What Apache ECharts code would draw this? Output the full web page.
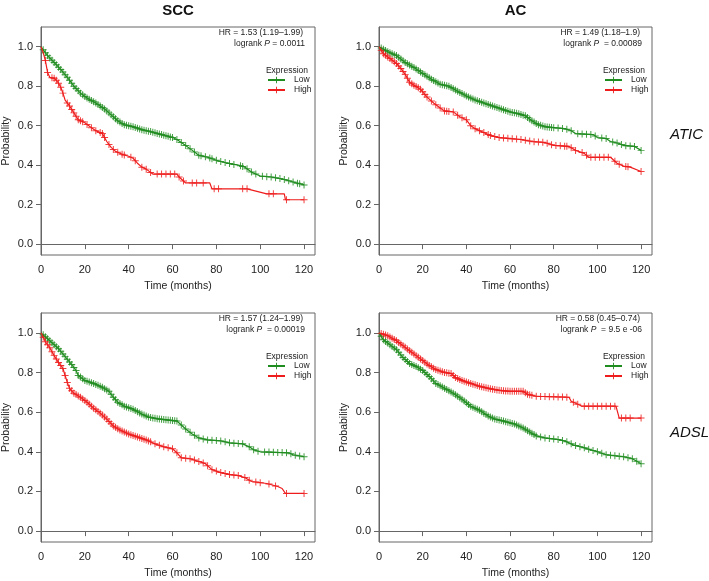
<!DOCTYPE html>
<html>
<head>
<meta charset="utf-8">
<script src="https://cdn.jsdelivr.net/npm/echarts@6/dist/echarts.min.js"></script>
<style>html,body{margin:0;padding:0;background:#fff;}#c{width:709px;height:581px;}</style>
</head>
<body>
<div id="c"></div>
<script>
// ---------- DATA ----------
const colTitles = ['SCC', 'AC'];
const rowTitles = ['ATIC', 'ADSL'];
const xTicks = [0, 20, 40, 60, 80, 100, 120];
const yTicks = [0, 0.2, 0.4, 0.6, 0.8, 1.0];
const groupNames = ['Low', 'High'];
const hrTexts = ['HR = 1.53 (1.19\u20131.99)', 'HR = 1.49 (1.18\u20131.9)', 'HR = 1.57 (1.24\u20131.99)', 'HR = 0.58 (0.45\u20130.74)'];
const pTexts = ['= 0.0011', ' = 0.00089', ' = 0.00019', ' = 9.5 e -06'];

// SCC / ATIC
const sccAticLowT = [0,3,6,9,12,15,18,21,25,29,32,35,38,42,46,50,55,60,62,66,69,72,76,80,85,90,93,96,100,105,110,115,120];
const sccAticLowS = [1,0.955,0.92,0.885,0.845,0.80,0.765,0.74,0.715,0.685,0.655,0.625,0.605,0.595,0.58,0.57,0.555,0.54,0.53,0.50,0.475,0.45,0.44,0.425,0.41,0.40,0.39,0.365,0.345,0.34,0.33,0.315,0.30];
const sccAticLowC = [1,2,3,4,5,6,7,8,9,10,11,12,13,14,15,16,17,18,19,20,21,22,23,24,25,26,27,28,29,30,31,32,33,34,35,36,37,38,39,40,41,42,43,44,45,46,47,48,49,50,51,52,53,54,55,56,57,58,59,60,62,64,66,68,70,72,73,75,77,78,80,82,84,86,88,91,92,94,96,98,101,103,105,107,109,111,113,115,117,118,120];
const sccAticHighT = [0,1,2,3,4,6,7,8,9,10,11,13,15,17,20,23,25,28,30,32,34,37,40,42,44,46,48,51,62,63,65,66,77,78,94,103,111,111.5,120];
const sccAticHighS = [1,0.97,0.93,0.87,0.845,0.84,0.83,0.815,0.795,0.765,0.73,0.70,0.665,0.63,0.615,0.59,0.575,0.56,0.52,0.49,0.47,0.455,0.445,0.435,0.41,0.39,0.38,0.355,0.355,0.34,0.32,0.31,0.31,0.28,0.28,0.255,0.255,0.225,0.225];
const sccAticHighC = [2,3,5,6,7,8,9,10,12,13,14,15,16,17,18,19,21,23,25,27,28,29,31,33,35,37,38,41,43,46,48,50,53,55,57,59,61,63,65,69,71,74,79,81,92,94,104,106,112,120];

// AC / ATIC
const acAticLowT = [0,4,8,12,16,20,24,28,32,36,40,44,48,52,56,60,64,67,70,73,76,80,85,88,90,98,100,104,106,110,112,117,120];
const acAticLowS = [1,0.975,0.955,0.92,0.895,0.865,0.835,0.81,0.80,0.775,0.75,0.73,0.715,0.70,0.685,0.67,0.66,0.65,0.625,0.605,0.595,0.59,0.585,0.575,0.56,0.555,0.54,0.535,0.52,0.51,0.50,0.495,0.475];
const acAticLowC = [1,2,3,4,5,6,7,8,9,10,11,12,13,14,15,16,17,18,19,20,21,22,23,24,25,26,27,28,29,30,31,32,33,34,35,36,37,38,39,40,41,42,43,44,45,46,47,48,49,50,51,52,53,54,55,56,57,58,59,60,61,62,63,64,65,66,67,68,69,70,71,72,73,74,75,76,77,78,79,80,82,84,86,88,91,93,95,97,99,102,104,107,109,111,113,115,117,120];
const acAticHighT = [0,2,5,8,10,12,14,16,19,22,25,28,30,34,37,40,42,44,47,51,55,60,65,70,76,80,87,90,94,96,106,109,112,115,120];
const acAticHighS = [1,0.965,0.94,0.915,0.89,0.86,0.82,0.805,0.785,0.745,0.715,0.69,0.675,0.67,0.645,0.63,0.60,0.585,0.57,0.55,0.54,0.535,0.53,0.52,0.515,0.50,0.495,0.475,0.46,0.44,0.44,0.41,0.395,0.39,0.368];
const acAticHighC = [1,2,3,4,5,6,7,8,9,10,11,12,13,14,15,16,17,18,19,20,21,22,24,26,28,30,31,32,34,36,38,40,42,44,46,48,50,51,53,55,57,59,61,63,65,67,69,71,73,75,77,79,81,83,85,86,88,90,93,95,97,99,101,103,105,108,110,113,114,120];

// SCC / ADSL
const sccAdslLowT = [0,4,8,11,14,16,17,20,24,28,31,33,35,38,42,46,49,54,58,62,64,66,69,72,76,82,86,92,95,97,100,113,115,120];
const sccAdslLowS = [1,0.96,0.92,0.88,0.84,0.81,0.785,0.76,0.745,0.725,0.705,0.675,0.65,0.63,0.615,0.59,0.575,0.565,0.56,0.555,0.535,0.515,0.49,0.47,0.46,0.455,0.445,0.44,0.425,0.41,0.40,0.395,0.385,0.375];
const sccAdslLowC = [1,2,3,4,5,6,7,8,9,10,11,12,13,14,15,16,17,18,19,20,21,22,23,24,25,26,27,28,29,30,31,32,33,34,35,36,37,38,39,40,41,42,43,44,45,46,47,48,49,50,51,52,53,54,55,56,57,58,59,60,61,62,64,66,68,70,72,74,76,78,80,82,84,86,88,90,92,95,97,99,102,104,106,108,110,112,114,116,118,120];
const sccAdslHighT = [0,2,4,6,8,10,11,12,13,15,18,21,24,27,30,33,36,40,44,48,52,56,60,62,64,68,71,75,78,82,86,90,93,96,103,108,110,111.5,120];
const sccAdslHighS = [1,0.955,0.925,0.885,0.85,0.82,0.785,0.75,0.72,0.695,0.675,0.65,0.62,0.595,0.565,0.53,0.51,0.49,0.475,0.46,0.44,0.425,0.415,0.395,0.37,0.365,0.355,0.34,0.31,0.295,0.285,0.28,0.27,0.25,0.24,0.225,0.215,0.19,0.19];
const sccAdslHighC = [1,2,3,4,5,6,7,8,9,10,11,12,13,14,15,16,17,18,19,20,21,22,23,24,25,26,27,28,29,30,31,32,33,34,35,36,37,38,39,40,41,42,43,44,45,46,47,48,49,50,52,54,56,58,60,62,64,66,68,70,72,74,76,78,80,82,84,86,88,90,93,95,98,100,104,107,112,120];

// AC / ADSL
const acAdslLowT = [0,2,5,8,11,14,17,20,23,26,30,34,38,42,46,50,53,57,62,66,69,72,76,83,86,89,94,100,104,108,112,116,120];
const acAdslLowS = [1,0.965,0.94,0.915,0.875,0.845,0.83,0.81,0.78,0.745,0.72,0.695,0.665,0.63,0.61,0.58,0.565,0.555,0.54,0.52,0.50,0.48,0.47,0.46,0.45,0.435,0.42,0.40,0.385,0.38,0.375,0.365,0.34];
const acAdslLowC = [1,2,3,4,5,6,7,8,9,10,11,12,13,14,15,16,17,18,19,20,21,22,23,24,25,26,27,28,29,30,31,32,33,34,35,36,37,38,39,40,41,42,43,44,45,46,47,48,49,50,51,52,53,54,55,56,57,58,59,60,61,62,63,64,65,66,67,68,69,70,71,72,74,76,78,80,82,84,86,88,90,92,94,96,98,100,102,104,106,108,110,112,114,116,118,120];
const acAdslHighT = [0,4,8,11,14,17,20,23,26,30,33,35,38,42,46,50,55,60,66,68,72,87,88,90,93,108.5,110,120];
const acAdslHighS = [1,0.985,0.96,0.935,0.91,0.885,0.86,0.835,0.815,0.80,0.795,0.775,0.76,0.745,0.73,0.72,0.71,0.705,0.705,0.69,0.68,0.675,0.655,0.645,0.63,0.63,0.57,0.57];
const acAdslHighC = [1,2,3,4,5,6,7,8,9,10,11,12,13,14,15,16,17,18,19,20,21,22,23,24,25,26,27,28,29,30,31,32,33,34,35,36,37,38,39,40,41,42,43,44,45,46,47,48,49,50,51,52,53,54,55,56,57,58,59,60,61,62,63,64,65,66,67,68,69,70,72,74,76,78,80,82,84,86,89,91,94,96,98,100,102,104,106,108,111,113,115,120];

const panels = [
  {low:[sccAticLowT, sccAticLowS, sccAticLowC], high:[sccAticHighT, sccAticHighS, sccAticHighC]},
  {low:[acAticLowT, acAticLowS, acAticLowC], high:[acAticHighT, acAticHighS, acAticHighC]},
  {low:[sccAdslLowT, sccAdslLowS, sccAdslLowC], high:[sccAdslHighT, sccAdslHighS, sccAdslHighC]},
  {low:[acAdslLowT, acAdslLowS, acAdslLowC], high:[acAdslHighT, acAdslHighS, acAdslHighC]}
];

// ---------- LAYOUT / STYLE ----------
const GREEN = '#1f8c1f';
const RED = '#ee1c1c';
const FONT = 'Liberation Sans, Arial, Helvetica, sans-serif';
const grids = [
  {left: 41, top: 27, width: 274, height: 228},
  {left: 379, top: 27, width: 273, height: 228},
  {left: 41, top: 313, width: 274, height: 229},
  {left: 379, top: 313, width: 273, height: 229}
];
const PLUS = 'path://M4.3,0h1.4v10h-1.4zM0,4.3h10v1.4h-10z';

// y of the drawn curve at time t (censor marks sit on the curve)
function curveValue(T, S, t) {
  for (let i = 0; i < T.length - 1; i++) {
    if (t >= T[i] && t <= T[i + 1] && T[i + 1] > T[i]) {
      const f = (t - T[i]) / (T[i + 1] - T[i]);
      return S[i] + f * (S[i + 1] - S[i]);
    }
  }
  return S[S.length - 1];
}

const xAxes = [], yAxes = [], series = [], legends = [], graphics = [];
grids.forEach((g, i) => {
  xAxes.push({
    gridIndex: i, type: 'value', min: 0, max: 125,
    name: 'Time (months)', nameLocation: 'middle', nameGap: 26,
    nameTextStyle: {fontFamily: FONT, fontSize: 10.5, color: '#222'},
    axisLine: {show: true, lineStyle: {color: '#666', width: 1}},
    axisTick: {show: true, length: 5, lineStyle: {color: '#666'}, customValues: xTicks},
    axisLabel: {fontFamily: FONT, fontSize: 11, color: '#222', margin: 9, customValues: xTicks},
    splitLine: {show: false}
  });
  yAxes.push({
    gridIndex: i, type: 'value', min: -0.055, max: 1.1,
    name: 'Probability', nameLocation: 'middle', nameGap: 29,
    nameTextStyle: {fontFamily: FONT, fontSize: 10.5, color: '#222'},
    axisLine: {show: true, lineStyle: {color: '#666', width: 1}},
    axisTick: {show: true, length: 5, lineStyle: {color: '#666'}, customValues: yTicks},
    axisLabel: {fontFamily: FONT, fontSize: 11, color: '#222', margin: 8, customValues: yTicks,
      formatter: v => v.toFixed(1)},
    splitLine: {show: false}
  });
  const p = panels[i];
  [['Low', p.low, GREEN], ['High', p.high, RED]].forEach(([name, d, col]) => {
    const [T, S, C] = d;
    series.push({
      name: name, type: 'line', xAxisIndex: i, yAxisIndex: i,
      data: T.map((t, k) => [t, S[k]]),
      symbol: PLUS, showSymbol: false, symbolSize: 6,
      lineStyle: {color: col, width: 1.2}, itemStyle: {color: col},
      animation: false, silent: true
    });
    series.push({
      name: name, type: 'scatter', xAxisIndex: i, yAxisIndex: i,
      data: C.map(t => [t, curveValue(T, S, t)]),
      symbol: PLUS, symbolSize: 7, itemStyle: {color: col, opacity: 0.85},
      animation: false, silent: true
    });
  });
  const right = g.left + g.width;
  const hrRight = i % 2 === 0 ? right - 12 : right - 12;
  graphics.push({type: 'text', x: hrRight, y: g.top + 6,
    style: {text: hrTexts[i], fontFamily: FONT, fontSize: 8.5, fill: '#222', align: 'right', verticalAlign: 'middle'}});
  graphics.push({type: 'text', x: right - 10, y: g.top + 17,
    style: {text: 'logrank {i|P} ' + pTexts[i], fontFamily: FONT, fontSize: 8.5, fill: '#222', align: 'right', verticalAlign: 'middle',
      rich: {i: {fontStyle: 'italic', fontFamily: FONT, fontSize: 8.5, fill: '#222'}}}});
  graphics.push({type: 'text', x: right - 7, y: g.top + 44,
    style: {text: 'Expression', fontFamily: FONT, fontSize: 8.5, fill: '#222', align: 'right', verticalAlign: 'middle'}});
  legends.push({
    data: groupNames, orient: 'vertical', left: right - 48, top: g.top + 48,
    itemWidth: 17, itemHeight: 8, itemGap: 0, padding: 0,
    textStyle: {fontFamily: FONT, fontSize: 8.5, color: '#222', lineHeight: 10, padding: [0, 0, 0, 4]},
    selectedMode: false
  });
});

// titles
graphics.push({type: 'text', x: (grids[0].left + grids[0].left + grids[0].width) / 2, y: 11,
  style: {text: colTitles[0], fontFamily: FONT, fontSize: 15, fontWeight: 'bold', fill: '#111', align: 'center', verticalAlign: 'middle'}});
graphics.push({type: 'text', x: (grids[1].left + grids[1].left + grids[1].width) / 2, y: 11,
  style: {text: colTitles[1], fontFamily: FONT, fontSize: 15, fontWeight: 'bold', fill: '#111', align: 'center', verticalAlign: 'middle'}});
graphics.push({type: 'text', x: 670, y: 135,
  style: {text: rowTitles[0], fontFamily: FONT, fontSize: 15, fontStyle: 'italic', fill: '#111', align: 'left', verticalAlign: 'middle'}});
graphics.push({type: 'text', x: 670, y: 433,
  style: {text: rowTitles[1], fontFamily: FONT, fontSize: 15, fontStyle: 'italic', fill: '#111', align: 'left', verticalAlign: 'middle'}});

const chart = echarts.init(document.getElementById('c'), null, {renderer: 'canvas'});
chart.setOption({
  backgroundColor: '#fff',
  animation: false,
  grid: grids.map(g => Object.assign({show: true, borderColor: '#666', borderWidth: 1, containLabel: false}, g)),
  xAxis: xAxes, yAxis: yAxes, series: series, legend: legends, graphic: graphics
});
</script>
</body>
</html>
